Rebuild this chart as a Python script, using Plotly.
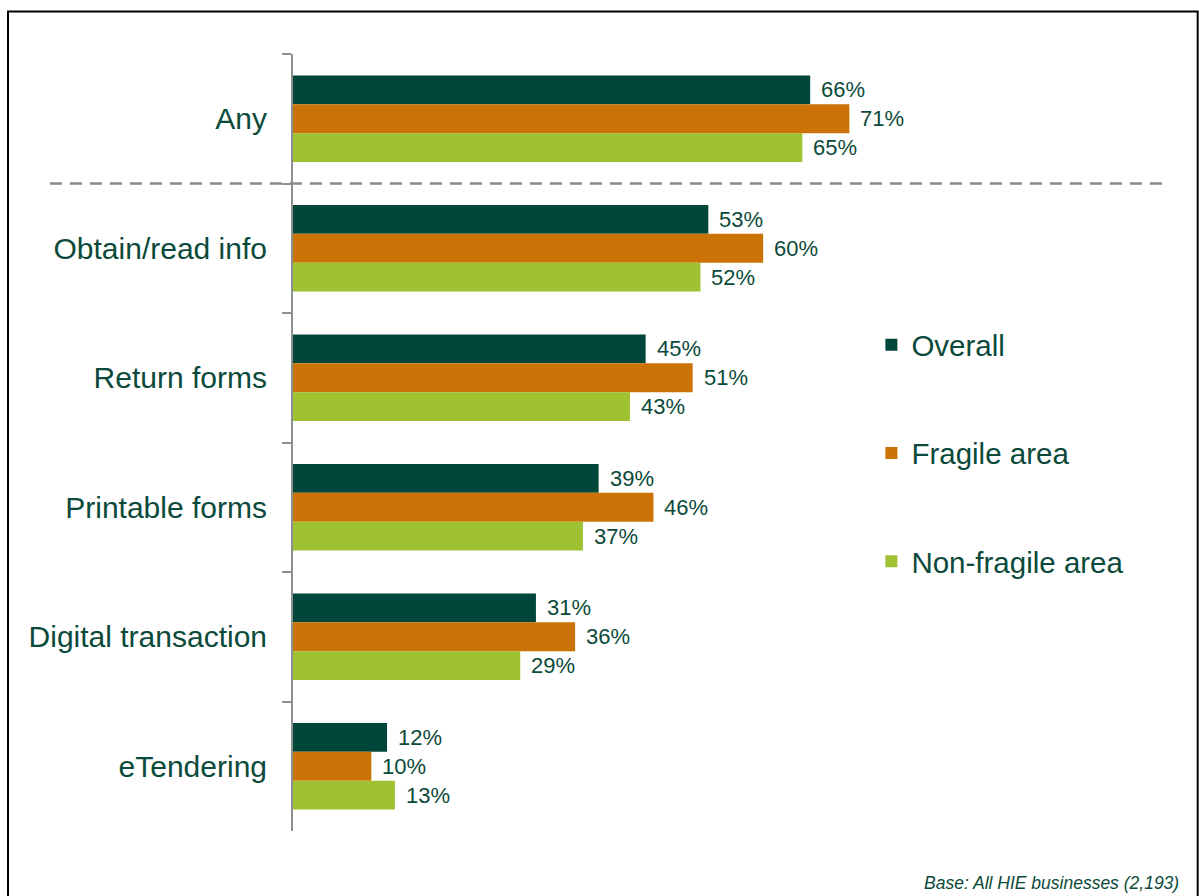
import plotly.graph_objects as go

# Categories top to bottom and the share of businesses (%) in each group
categories = ["Any", "Obtain/read info", "Return forms", "Printable forms",
              "Digital transaction", "eTendering"]
overall = [66, 53, 45, 39, 31, 12]
fragile = [71, 60, 51, 46, 36, 10]
non_fragile = [65, 52, 43, 37, 29, 13]

series = [
    ("Overall", overall, "#00463A"),
    ("Fragile area", fragile, "#CB7306"),
    ("Non-fragile area", non_fragile, "#9EC231"),
]

TEXT = "#0B4A3A"
GREY = "#8C918F"
FONT = "Liberation Sans, Arial, sans-serif"
BARGAP = 0.332
bar_w = (1 - BARGAP) / len(series)

fig = go.Figure()
for k, (name, vals, col) in enumerate(series):
    fig.add_trace(go.Bar(
        y=categories, x=vals, name=name, orientation="h",
        marker=dict(color=col, line=dict(width=0)),
        legendgroup=name, hoverinfo="skip",
    ))
    # value labels just past the end of each bar
    for i, v in enumerate(vals):
        fig.add_annotation(
            x=v, y=i + (k - 1) * bar_w, xref="x", yref="y",
            text=f"{v}%", showarrow=False, xanchor="left", yanchor="middle",
            xshift=9, font=dict(size=22, color=TEXT, family=FONT),
        )

# separator between the "Any" summary row and the individual services
fig.add_shape(type="line", xref="paper", yref="y",
              x0=-0.282, x1=1.012, y0=0.5, y1=0.5,
              line=dict(color="#8A8A8A", width=2.5, dash="12px,8px"))

# outer frame
fig.add_shape(type="rect", xref="paper", yref="paper",
              x0=-0.3306, x1=1.0495, y0=-0.2, y1=1.0547,
              line=dict(color="black", width=2), fillcolor="rgba(0,0,0,0)",
              layer="above")

fig.add_annotation(
    xref="paper", yref="paper", x=1.030, y=-0.067, xanchor="right",
    yanchor="middle", showarrow=False,
    text="<i>Base: All HIE businesses (2,193)</i>",
    font=dict(size=17.5, color=TEXT, family=FONT),
)

fig.update_layout(
    width=1199, height=896,
    margin=dict(l=293, r=44, t=54, b=65),
    paper_bgcolor="white", plot_bgcolor="white",
    barmode="group", bargap=BARGAP, bargroupgap=0,
    font=dict(family=FONT, color=TEXT),
    showlegend=True,
    legend=dict(
        x=0.671, y=0.659, xanchor="left", yanchor="top",
        font=dict(size=29.5, color=TEXT, family=FONT),
        tracegroupgap=67, bgcolor="rgba(0,0,0,0)",
    ),
    xaxis=dict(visible=False, range=[0, 110], fixedrange=True),
    yaxis=dict(
        type="category", range=[5.5, -0.5],
        showline=True, linecolor=GREY, linewidth=2,
        ticks="outside", tickson="boundaries", ticklen=9, tickwidth=1.5,
        tickcolor=GREY, showgrid=False, zeroline=False,
        tickfont=dict(size=30, color=TEXT, family=FONT),
        ticklabelstandoff=18,
    ),
)

fig.write_html("out.html")
